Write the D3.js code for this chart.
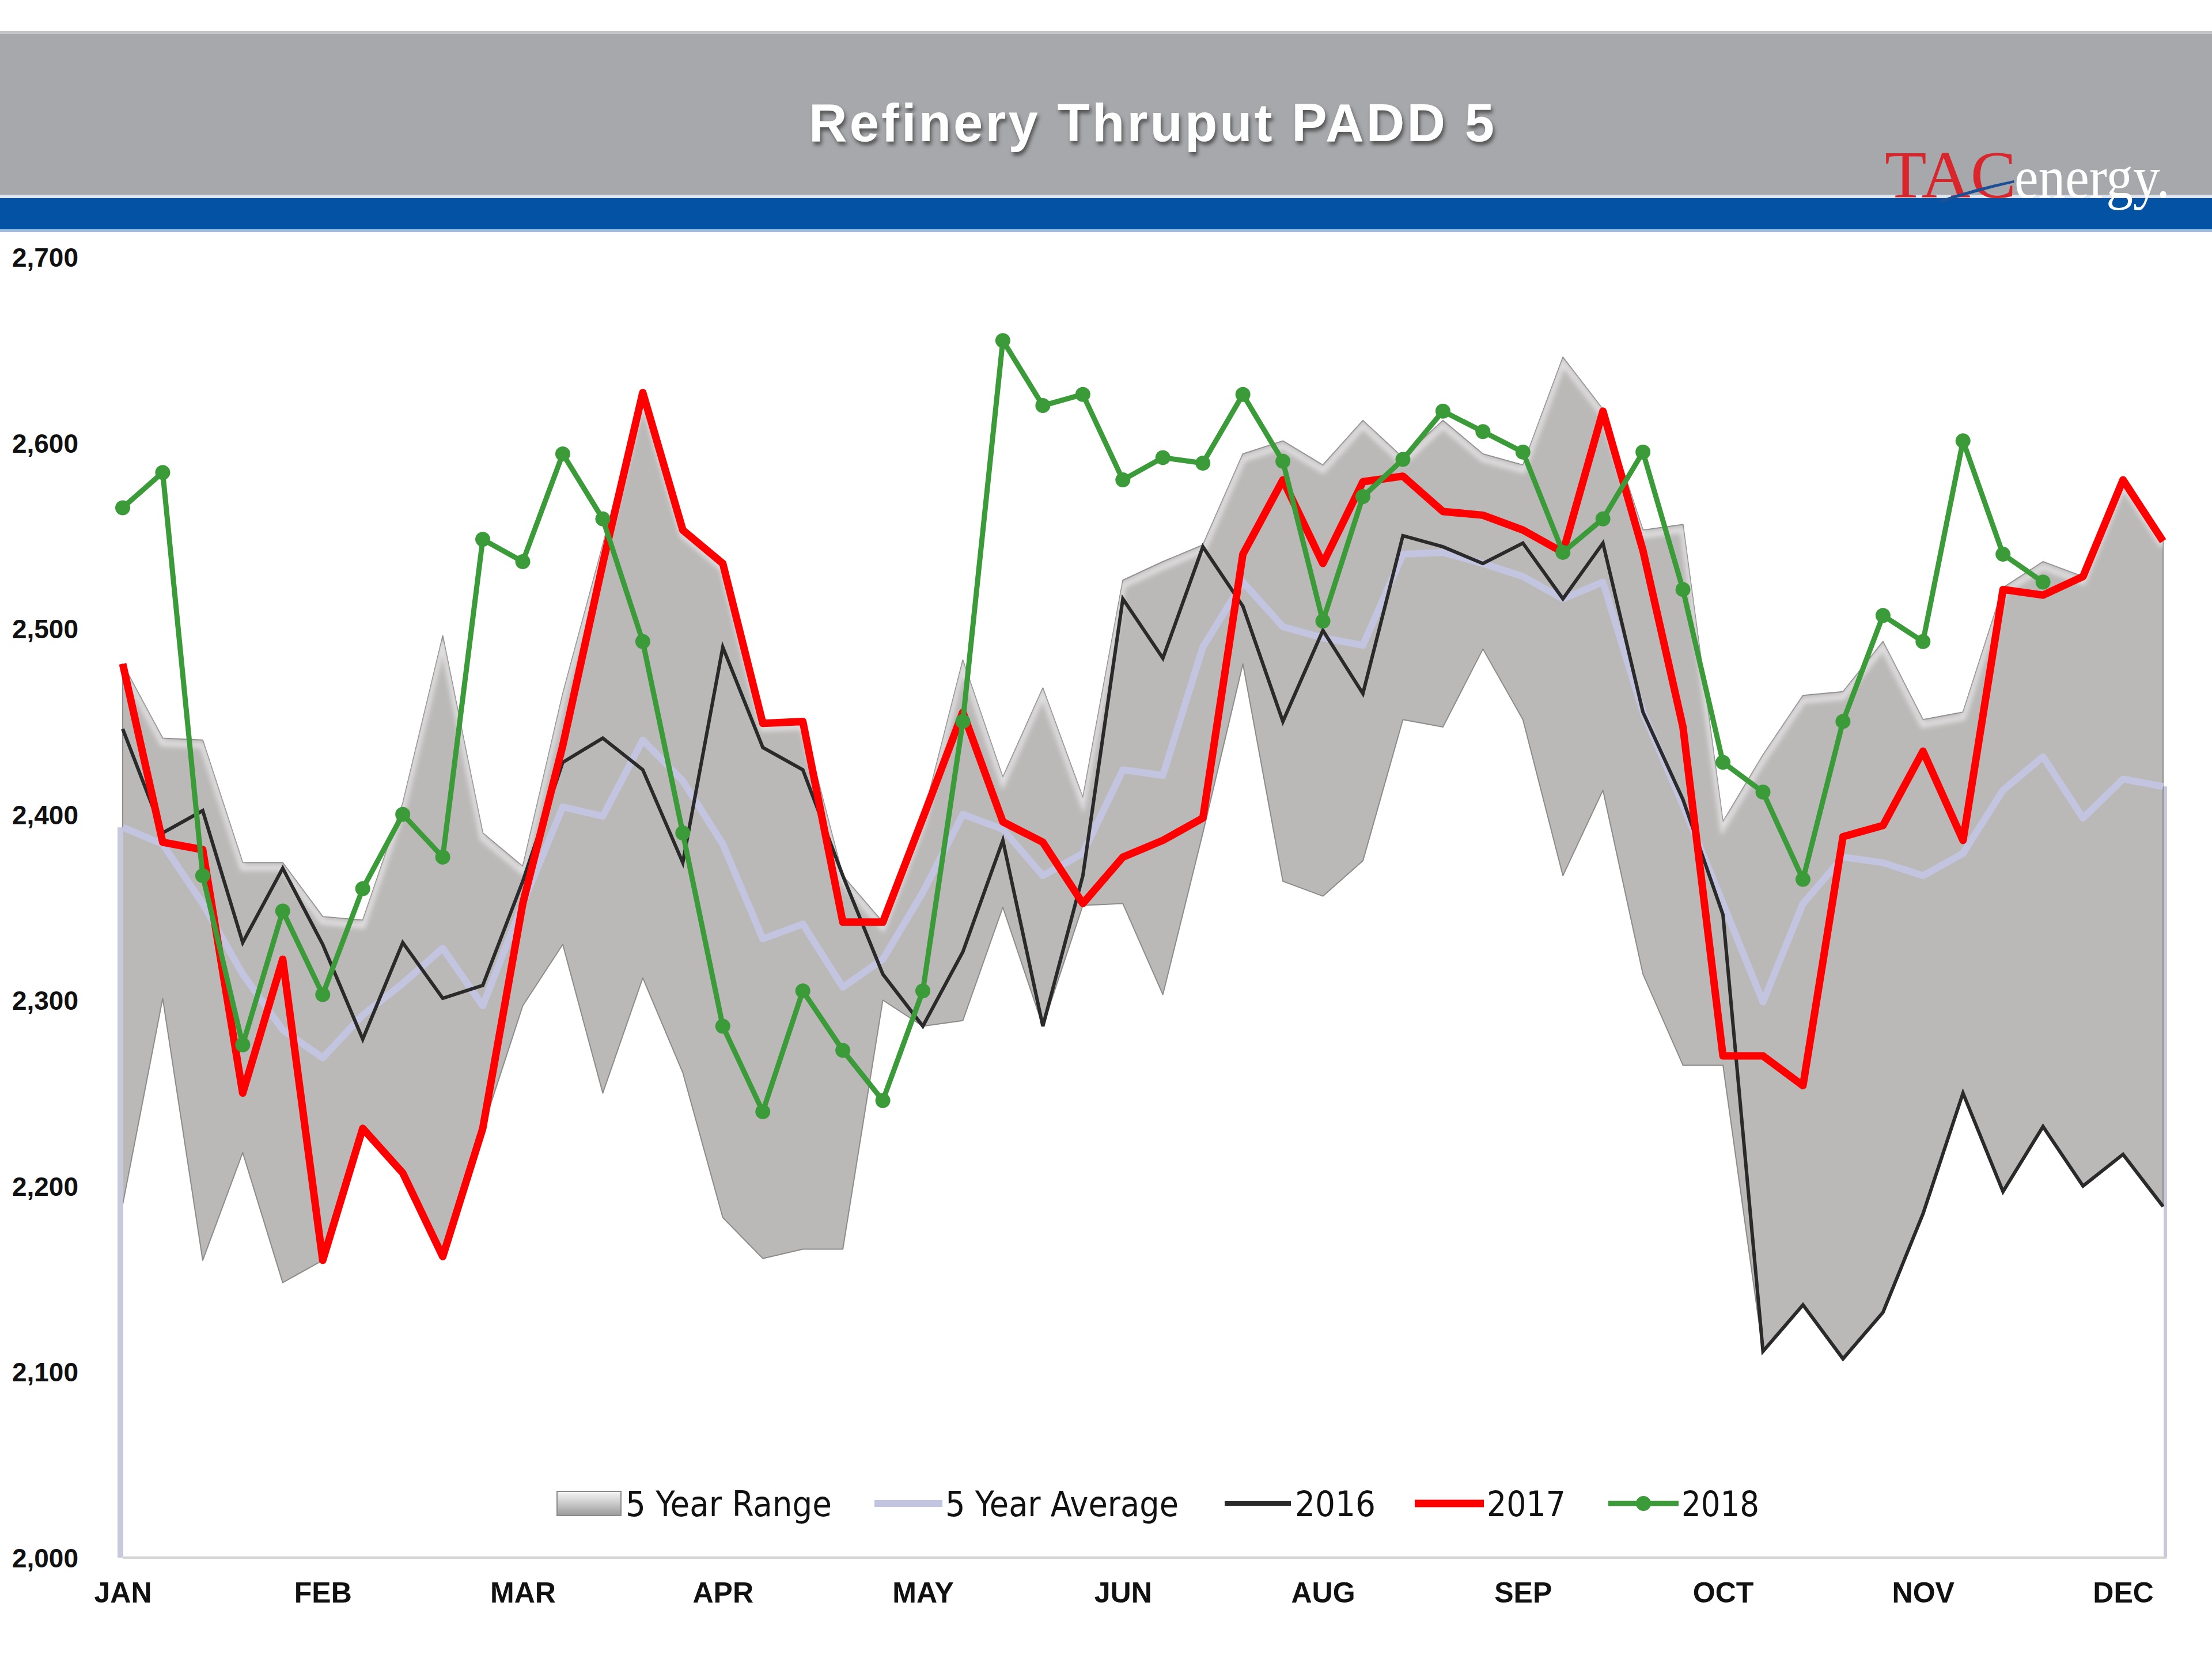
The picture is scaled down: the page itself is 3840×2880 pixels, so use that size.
<!DOCTYPE html>
<html><head><meta charset="utf-8">
<script src="https://cdn.jsdelivr.net/npm/d3@7"></script>
<style>html,body{margin:0;padding:0;background:#fff;} svg{display:block;}</style>
</head><body>
<svg id="chart" width="3840" height="2880"></svg>
<script>
// ---------------- data ----------------
const monthLabels = ["JAN","FEB","MAR","APR","MAY","JUN","AUG","SEP","OCT","NOV","DEC"];
const monthWeeks  = [0,5,10,15,20,25,30,35,40,45,50];
const yTicks = [2000,2100,2200,2300,2400,2500,2600,2700];

const rangeHigh = [2481,2441,2440,2374,2374,2345,2343,2406,2496,2390,2372,2465,2545,2627,2553,2535,2449,2450,2367,2342,
                   2398,2483,2420,2468,2409,2526,2536,2545,2594,2601,2588,2612,2592,2612,2594,2588,2646,2618,2553,2556,
                   2396,2432,2464,2466,2493,2451,2455,2522,2536,2528,2580,2547];
const rangeLow  = [2190,2301,2160,2218,2148,2160,2231,2207,2162,2231,2297,2330,2250,2312,2261,2183,2161,2166,2166,2300,
                   2286,2289,2350,2286,2351,2352,2303,2390,2481,2364,2356,2375,2451,2447,2489,2451,2367,2413,2314,2265,
                   2265,2111,2136,2107,2132,2185,2250,2197,2232,2200,2217,2189];
const avg5      = [2393,2384,2352,2314,2284,2269,2292,2309,2328,2297,2352,2404,2399,2440,2418,2384,2333,2341,2307,2322,
                   2358,2400,2392,2367,2379,2424,2421,2490,2525,2501,2495,2491,2540,2541,2535,2528,2516,2525,2455,2405,
                   2352,2299,2352,2377,2374,2367,2379,2413,2431,2398,2419,2415];
const y2016     = [2446,2390,2402,2331,2371,2330,2279,2331,2301,2308,2364,2428,2441,2424,2374,2490,2436,2424,2367,2314,
                   2286,2326,2386,2286,2367,2516,2484,2544,2512,2450,2499,2465,2550,2544,2535,2546,2516,2546,2455,2408,
                   2346,2111,2136,2107,2132,2185,2250,2197,2232,2200,2217,2189];
const y2017     = [2481,2385,2381,2250,2322,2160,2231,2207,2162,2231,2352,2437,2535,2627,2553,2535,2449,2450,2342,2342,
                   2398,2455,2396,2385,2352,2377,2386,2398,2540,2580,2535,2579,2582,2563,2561,2553,2541,2617,2542,2447,
                   2270,2270,2254,2388,2394,2434,2386,2521,2518,2528,2580,2547];
const y2018     = [2565,2584,2367,2276,2348,2303,2360,2400,2377,2548,2536,2594,2559,2493,2390,2286,2240,2305,2273,2246,
                   2305,2450,2655,2620,2626,2580,2592,2589,2626,2590,2504,2571,2591,2617,2606,2595,2541,2559,2595,2521,
                   2428,2412,2365,2450,2507,2493,2601,2540,2525];

const legendItems = ["5 Year Range","5 Year Average","2016","2017","2018"];

// ---------------- drawing ----------------
const svg = d3.select("#chart");
const W = 3840, H = 2880;
const x = d3.scaleLinear().domain([0, 51]).range([213, 3755]);
const y = d3.scaleLinear().domain([2000, 2700]).range([2704, 446]);

const defs = svg.append("defs");
const sh = defs.append("filter").attr("id","titleShadow").attr("x","-10%").attr("y","-30%").attr("width","120%").attr("height","180%");
sh.append("feDropShadow").attr("dx",3).attr("dy",6).attr("stdDeviation",3).attr("flood-color","#3a3a3a").attr("flood-opacity",0.75);
const blur = defs.append("filter").attr("id","soft").attr("x","-5%").attr("y","-20%").attr("width","110%").attr("height","140%");
blur.append("feGaussianBlur").attr("stdDeviation",4);
const axShadow = defs.append("filter").attr("id","axShadow").attr("x","-1%").attr("y","-400%").attr("width","102%").attr("height","900%");
axShadow.append("feGaussianBlur").attr("stdDeviation",5);
const lg = defs.append("linearGradient").attr("id","swatchGrad").attr("x1",0).attr("y1",0).attr("x2",0).attr("y2",1);
lg.append("stop").attr("offset","0%").attr("stop-color","#f6f6f6");
lg.append("stop").attr("offset","45%").attr("stop-color","#cfcfcf");
lg.append("stop").attr("offset","100%").attr("stop-color","#9a9a9a");

// header
svg.append("rect").attr("x",0).attr("y",0).attr("width",W).attr("height",H).attr("fill","#fff");
svg.append("rect").attr("x",0).attr("y",54).attr("width",W).attr("height",284).attr("fill","#a7a8ab");
svg.append("rect").attr("x",0).attr("y",54).attr("width",W).attr("height",5).attr("fill","#c3c4c6");
svg.append("rect").attr("x",0).attr("y",338).attr("width",W).attr("height",6).attr("fill","#dfe6ef");
svg.append("rect").attr("x",0).attr("y",344).attr("width",W).attr("height",56).attr("fill","#0452a3");
svg.append("rect").attr("x",0).attr("y",398).attr("width",W).attr("height",5).attr("fill","#9fbbe0");

svg.append("text").attr("x",1999).attr("y",245).attr("text-anchor","middle")
  .attr("font-family","Liberation Sans, Arial, sans-serif").attr("font-weight","bold").attr("font-size",92)
  .attr("textLength",1190).attr("lengthAdjust","spacing")
  .attr("fill","#ffffff").attr("filter","url(#titleShadow)")
  .text("Refinery Thruput PADD 5");

// logo
const logo = svg.append("g");
logo.append("text").attr("x",3272).attr("y",343)
  .attr("font-family","Liberation Serif, Times New Roman, serif").attr("font-size",116)
  .attr("fill","#d8262c").attr("textLength",228).attr("lengthAdjust","spacingAndGlyphs").text("TAC");
logo.append("text").attr("x",3497).attr("y",343)
  .attr("font-family","Liberation Serif, Times New Roman, serif").attr("font-size",104)
  .attr("fill","#ffffff").attr("textLength",270).attr("lengthAdjust","spacingAndGlyphs").text("energy.");
logo.append("path").attr("d","M3366,348 Q3430,326 3496,313 L3497,317 Q3432,332 3369,352 Z").attr("fill","#1d4f96");

// plot
const plot = svg.append("g");
const idx = d3.range(52);

const areaGen = d3.area().x(i => x(i)).y0(i => y(rangeLow[i])).y1(i => y(rangeHigh[i]));
defs.append("clipPath").attr("id","rangeClip").append("path").attr("d", areaGen(idx));

plot.append("path").attr("d", areaGen(idx)).attr("fill","#bbb8b8")
  .attr("stroke","#8e8b8b").attr("stroke-width",2).attr("stroke-linejoin","round");
// bevel highlight along top edge
const upLine = d3.line().x(i => x(i)).y(i => y(rangeHigh[i]));
plot.append("g").attr("clip-path","url(#rangeClip)")
  .append("path").attr("d", upLine(idx)).attr("transform","translate(0,9)")
  .attr("fill","none").attr("stroke","#ffffff").attr("stroke-opacity",0.55).attr("stroke-width",10)
  .attr("filter","url(#soft)");

// lavender edge verticals
plot.append("line").attr("x1",x(0)-4).attr("x2",x(0)-4).attr("y1",y(avg5[0])).attr("y2",y(2000))
  .attr("stroke","#c9c9de").attr("stroke-width",10);
plot.append("line").attr("x1",x(51)+4).attr("x2",x(51)+4).attr("y1",y(avg5[51])).attr("y2",y(2000))
  .attr("stroke","#c9c9de").attr("stroke-width",6);

// x axis baseline with shadow
plot.append("line").attr("x1",x(0)).attr("x2",x(51)+6).attr("y1",y(2000)+8).attr("y2",y(2000)+8)
  .attr("stroke","#9a9a9a").attr("stroke-width",10).attr("filter","url(#axShadow)");
plot.append("line").attr("x1",x(0)).attr("x2",x(51)+6).attr("y1",y(2000)).attr("y2",y(2000))
  .attr("stroke","#d4d4d4").attr("stroke-width",4);

const line = d3.line().x((d,i) => x(i)).y(d => y(d)).curve(d3.curveLinear);

plot.append("path").datum(avg5).attr("d", line).attr("fill","none")
  .attr("stroke","#c3c4e0").attr("stroke-width",12).attr("stroke-linejoin","round");
plot.append("path").datum(y2016).attr("d", line).attr("fill","none")
  .attr("stroke","#2a2a2a").attr("stroke-width",6).attr("stroke-linejoin","miter");
plot.append("path").datum(y2017).attr("d", line).attr("fill","none")
  .attr("stroke","#ff0000").attr("stroke-width",13).attr("stroke-linejoin","round");
plot.append("path").datum(y2018).attr("d", line).attr("fill","none")
  .attr("stroke","#3a9b38").attr("stroke-width",9).attr("stroke-linejoin","round");
plot.selectAll("circle.p18").data(y2018).enter().append("circle").attr("class","p18")
  .attr("cx",(d,i) => x(i)).attr("cy", d => y(d)).attr("r",13).attr("fill","#3a9b38");

// axes
const yAxis = svg.append("g").attr("transform","translate(136,0)")
  .call(d3.axisLeft(y).tickValues(yTicks).tickFormat(d3.format(",")).tickSize(0).tickPadding(0));
yAxis.select(".domain").remove();
yAxis.selectAll("text").attr("font-family","Liberation Sans, Arial, sans-serif").attr("font-weight","bold")
  .attr("font-size",46).attr("fill","#111").attr("dy","0.36em");

const xAxis = svg.append("g").attr("transform","translate(0,2744)")
  .call(d3.axisBottom(x).tickValues(monthWeeks).tickFormat((d,i) => monthLabels[i]).tickSize(0).tickPadding(0));
xAxis.select(".domain").remove();
xAxis.selectAll("text").attr("font-family","Liberation Sans, Arial, sans-serif").attr("font-weight","bold")
  .attr("font-size",50).attr("fill","#111").attr("dy","0.76em");

// legend
const leg = svg.append("g");
const legY = 2610;
const legSpec = [
  {sx1:967, sx2:1078, tx:1086, tw:358},
  {sx1:1518, sx2:1636, tx:1641, tw:405},
  {sx1:2126, sx2:2241, tx:2248, tw:140},
  {sx1:2456, sx2:2576, tx:2581, tw:137},
  {sx1:2792, sx2:2914, tx:2919, tw:135}
];
legendItems.forEach((name, k) => {
  const s = legSpec[k];
  if (k === 0) {
    leg.append("rect").attr("x",s.sx1).attr("y",legY-21).attr("width",s.sx2-s.sx1).attr("height",42)
      .attr("fill","url(#swatchGrad)").attr("stroke","#8a8a8a").attr("stroke-width",2);
  } else {
    const col = [null,"#c3c4e0","#2a2a2a","#ff0000","#3a9b38"][k];
    const sw  = [null,12,8,13,9][k];
    leg.append("line").attr("x1",s.sx1).attr("x2",s.sx2).attr("y1",legY).attr("y2",legY)
      .attr("stroke",col).attr("stroke-width",sw);
    if (k === 4) leg.append("circle").attr("cx",(s.sx1+s.sx2)/2).attr("cy",legY).attr("r",13).attr("fill",col);
  }
  leg.append("text").attr("x",s.tx).attr("y",legY).attr("dy","0.36em")
    .attr("font-family","Liberation Sans Narrow, Arial Narrow, DejaVu Sans Condensed, sans-serif")
    .attr("font-size",60).attr("fill","#111")
    .attr("textLength",s.tw).attr("lengthAdjust","spacingAndGlyphs").text(name);
});
</script>
</body></html>
